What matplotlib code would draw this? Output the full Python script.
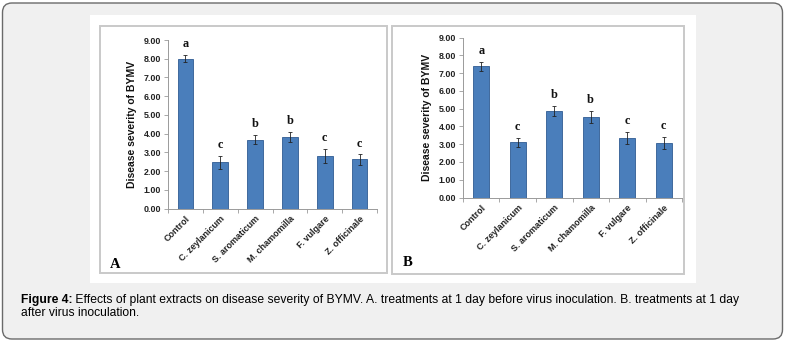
import numpy as np
import matplotlib
matplotlib.use("Agg")
import matplotlib.pyplot as plt
from matplotlib.patches import FancyBboxPatch, Rectangle

# ======================================================
# DATA
# ======================================================
categories = ["Control", "C. zeylanicum", "S. aromaticum",
              "M. chamomilla", "F. vulgare", "Z. officinale"]

sev_a = [8.00, 2.48, 3.68, 3.82, 2.80, 2.62]
err_a = [0.20, 0.35, 0.25, 0.27, 0.39, 0.27]
sig_a = ["a", "c", "b", "b", "c", "c"]

sev_b = [7.38, 3.10, 4.87, 4.54, 3.37, 3.06]
err_b = [0.27, 0.27, 0.29, 0.34, 0.34, 0.33]
sig_b = ["a", "c", "b", "b", "c", "c"]

yticks = np.arange(0, 10, 1)

caption_bold = "Figure 4:"
caption_rest = (" Effects of plant extracts on disease severity of BYMV. A. treatments at 1 day "
                "before virus inoculation. B. treatments at 1 day")
caption_line2 = "after virus inoculation."

# ======================================================
# FIGURE AND BACKGROUND (pixel helpers)
# ======================================================
W, H = 786, 347
fig = plt.figure(figsize=(W / 100, H / 100), dpi=100)
fig.patch.set_facecolor("white")


def fx(x):
    return x / W


def fy(y):
    return 1 - y / H


def ax_rect(left, top, right, bottom):
    return [fx(left), fy(bottom), fx(right) - fx(left), fy(top) - fy(bottom)]


# rounded caption box
fig.patches.append(FancyBboxPatch((fx(2.5), fy(339)), fx(780), 336 / H,
                                  boxstyle="round,pad=0,rounding_size=0.012",
                                  transform=fig.transFigure, facecolor="#f0f0f0",
                                  edgecolor="#6a6a6a", linewidth=1.0,
                                  mutation_aspect=W / H, zorder=-3))
# white image area
fig.patches.append(Rectangle((fx(90), fy(283)), fx(606), 268 / H,
                             transform=fig.transFigure, facecolor="white",
                             edgecolor="none", zorder=-2))
# panel frames
for l, t, r, b in [(100, 26, 387, 273), (392, 26, 684, 274)]:
    fig.patches.append(Rectangle((fx(l), fy(b)), fx(r - l), (b - t) / H,
                                 transform=fig.transFigure, facecolor="white",
                                 edgecolor="#c9c9c9", linewidth=1.4, zorder=-1))

# ======================================================
# PANELS
# ======================================================
panels = [
    (ax_rect(168, 40, 377, 208.5), sev_a, err_a, sig_a, "A", (115, 265)),
    (ax_rect(463, 37.7, 682, 197.5), sev_b, err_b, sig_b, "B", (407.5, 262)),
]

x = np.arange(len(categories)) + 0.5

for rect, vals, errs, sigs, tag, tag_pos in panels:
    ax = fig.add_axes(rect)
    ax.set_facecolor("none")
    ax.bar(x, vals, width=0.45, color="#4a7ebb", edgecolor="#2f5b93",
           linewidth=0.6, zorder=2)
    ax.errorbar(x, vals, yerr=errs, fmt="none", ecolor="#222222",
                elinewidth=0.6, capsize=1.6, capthick=0.6, zorder=3)
    for xi, v, e, s in zip(x, vals, errs, sigs):
        ax.annotate(s, (xi, v + e), xytext=(0, 3.5), textcoords="offset points",
                    ha="center", va="bottom", fontsize=8.8, fontweight="bold",
                    family="Liberation Serif", color="#111111")

    ax.set_xlim(0, len(categories))
    ax.set_ylim(0, 9)
    ax.set_yticks(yticks)
    ax.set_yticklabels([f"{t:.2f}" for t in yticks], fontsize=6.4,
                       fontweight="bold", family="Liberation Sans", color="#222222")
    # boundary ticks on x, labels at bar centres
    ax.set_xticks(np.arange(len(categories) + 1))
    ax.set_xticklabels([])
    ax.set_xticks(x, minor=True)
    ax.set_xticklabels(categories, minor=True, rotation=45, ha="right",
                       va="top", rotation_mode="anchor", fontsize=6.5,
                       fontweight="bold", family="Liberation Sans", color="#222222")
    ax.tick_params(axis="x", which="minor", length=0, pad=4)
    ax.tick_params(axis="x", which="major", length=3, width=0.6, color="#9a9a9a")
    ax.tick_params(axis="y", length=3, width=0.6, color="#9a9a9a", pad=2)

    for side in ["top", "right"]:
        ax.spines[side].set_visible(False)
    for side in ["left", "bottom"]:
        ax.spines[side].set_color("#9a9a9a")
        ax.spines[side].set_linewidth(0.7)

    ax.set_ylabel("Disease severity of BYMV", fontsize=7.5, fontweight="bold",
                  family="Liberation Sans", color="#111111", labelpad=5)

    fig.text(fx(tag_pos[0]), fy(tag_pos[1]), tag, ha="center", va="center",
             fontsize=10.5, fontweight="bold", family="Liberation Serif")

# ======================================================
# CAPTION
# ======================================================
cap_size = 8.7
t1 = fig.text(fx(21), fy(303), caption_bold, fontsize=cap_size, fontweight="bold",
              family="Liberation Sans", va="baseline", ha="left")
fig.canvas.draw()
bb = t1.get_window_extent()
fig.text(bb.x1 / W, fy(303), caption_rest, fontsize=cap_size,
         family="Liberation Sans", va="baseline", ha="left")
fig.text(fx(21), fy(316), caption_line2, fontsize=cap_size,
         family="Liberation Sans", va="baseline", ha="left")

plt.savefig("out.png", dpi=100)
